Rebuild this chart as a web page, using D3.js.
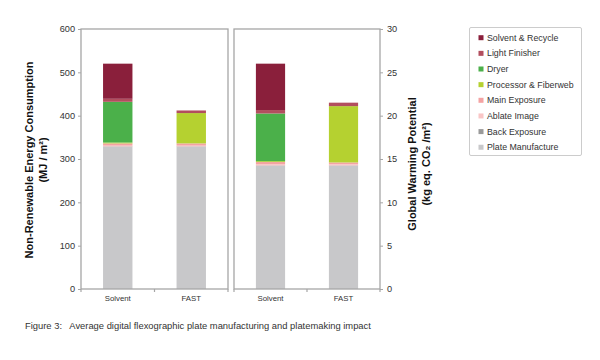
<!DOCTYPE html>
<html><head><meta charset="utf-8">
<script src="https://cdn.jsdelivr.net/npm/d3@7"></script>
<style>body{margin:0;background:#fff}svg{display:block}</style>
</head><body>
<svg id="c" width="600" height="360"></svg>
<script>
const categories = ["Solvent", "FAST"];
const seriesNames = ["Plate Manufacture", "Back Exposure", "Ablate Image", "Main Exposure", "Processor & Fiberweb", "Dryer", "Light Finisher", "Solvent & Recycle"];
const seriesColors = ["#c8c8ca", "#9a9a9a", "#f9c6c6", "#f4a3a3", "#b5d130", "#4bb04a", "#b24e5e", "#8a1f3b"];
// Non-renewable energy consumption (MJ / m2), [Solvent, FAST]
const energyPlate = [328, 328];
const energyBack = [1, 1];
const energyAblate = [2, 2];
const energyMain = [5, 5];
const energyProcessor = [2, 70];
const energyDryer = [94, 0];
const energyLight = [7, 6];
const energySolvent = [81, 0];
// Global warming potential (kg eq. CO2 / m2), [Solvent, FAST]
const gwpPlate = [14.2, 14.2];
const gwpBack = [0.05, 0.05];
const gwpAblate = [0.15, 0.15];
const gwpMain = [0.25, 0.2];
const gwpProcessor = [0.1, 6.5];
const gwpDryer = [5.5, 0];
const gwpLight = [0.4, 0.4];
const gwpSolvent = [5.35, 0];
const energyTicks = [0, 100, 200, 300, 400, 500, 600];
const gwpTicks = [0, 5, 10, 15, 20, 25, 30];

const energySeries = [energyPlate, energyBack, energyAblate, energyMain, energyProcessor, energyDryer, energyLight, energySolvent];
const gwpSeries = [gwpPlate, gwpBack, gwpAblate, gwpMain, gwpProcessor, gwpDryer, gwpLight, gwpSolvent];

const svg = d3.select("#c");
const font = "'Liberation Sans', Arial, sans-serif";
const plotTop = 29, plotBottom = 289;
const yL = d3.scaleLinear().domain([0, 600]).range([plotBottom, plotTop]);
const yR = d3.scaleLinear().domain([0, 30]).range([plotBottom, plotTop]);
const xL = d3.scaleBand().domain(categories).range([81, 228]).paddingInner(0.6).paddingOuter(0.3);
const xR = d3.scaleBand().domain(categories).range([234, 380]).paddingInner(0.6).paddingOuter(0.3);
const border = "#a6a6a6";

function panel(x, y, series) {
  const rows = categories.map((c, i) => {
    const r = {cat: c};
    seriesNames.forEach((s, k) => r[s] = series[k][i]);
    return r;
  });
  const stacked = d3.stack().keys(seriesNames)(rows);
  const g = svg.append("g");
  stacked.forEach((layer, k) => {
    g.selectAll(null).data(layer).enter().append("rect")
      .attr("x", d => x(d.data.cat))
      .attr("width", x.bandwidth())
      .attr("y", d => y(d[1]))
      .attr("height", d => Math.max(0, y(d[0]) - y(d[1])))
      .attr("fill", seriesColors[k]);
  });
  const [r0, r1] = x.range();
  svg.append("rect").attr("x", r0).attr("y", plotTop).attr("width", r1 - r0).attr("height", plotBottom - plotTop)
    .attr("fill", "none").attr("stroke", border).attr("stroke-width", 1.3);
  const step = x.step();
  const bounds = [r0, r0 + step, r1];
  svg.selectAll(null).data(bounds).enter().append("line")
    .attr("x1", d => d).attr("x2", d => d).attr("y1", plotBottom).attr("y2", plotBottom + 3)
    .attr("stroke", border).attr("stroke-width", 1.2);
  const ax = svg.append("g").attr("transform", `translate(0,${plotBottom})`)
    .call(d3.axisBottom(x).tickSize(0).tickPadding(6));
  ax.select(".domain").remove();
  ax.selectAll("text").attr("font-family", font).attr("font-size", 7.8).attr("fill", "#333");
}

panel(xL, yL, energySeries);
panel(xR, yR, gwpSeries);

const axL = svg.append("g").attr("transform", "translate(81,0)")
  .call(d3.axisLeft(yL).tickValues(energyTicks).tickSize(3).tickPadding(3));
axL.select(".domain").remove();
axL.selectAll("line").attr("stroke", border);
axL.selectAll("text").attr("font-family", font).attr("font-size", 9.2).attr("fill", "#333");

const axR = svg.append("g").attr("transform", "translate(380,0)")
  .call(d3.axisRight(yR).tickValues(gwpTicks).tickSize(3).tickPadding(4));
axR.select(".domain").remove();
axR.selectAll("line").attr("stroke", border);
axR.selectAll("text").attr("font-family", font).attr("font-size", 9.2).attr("fill", "#333");

function vtitle(x, y, lines) {
  const t = svg.append("text").attr("transform", `translate(${x},${y}) rotate(-90)`)
    .attr("text-anchor", "middle").attr("font-family", font).attr("font-weight", "bold")
    .attr("font-size", 11).attr("fill", "#111");
  lines.forEach((l, i) => t.append("tspan").attr("x", 0).attr("dy", i ? 14 : 0).text(l));
}
vtitle(33, 160, ["Non-Renewable Energy Consumption", "(MJ / m²)"]);
vtitle(416, 164, ["Global Warming Potential", "(kg eq. CO₂ /m²)"]);

const lg = svg.append("g");
lg.append("rect").attr("x", 469.5).attr("y", 27.5).attr("width", 112).attr("height", 128).attr("rx", 1.5)
  .attr("fill", "#fff").attr("stroke", "#ccc").attr("stroke-width", 1);
const legendOrder = seriesNames.map((s, i) => i).reverse();
legendOrder.forEach((k, j) => {
  const cy = 37.7 + j * 15.65;
  lg.append("rect").attr("x", 478.5).attr("y", cy - 2.5).attr("width", 5).attr("height", 5).attr("fill", seriesColors[k]);
  lg.append("text").attr("x", 487).attr("y", cy + 3).attr("font-family", font).attr("font-size", 8.8)
    .attr("fill", "#333").text(seriesNames[k]);
});

svg.append("text").attr("x", 25).attr("y", 329).attr("font-family", font).attr("font-size", 9.4)
  .attr("fill", "#333").attr("xml:space", "preserve")
  .text("Figure 3:   Average digital flexographic plate manufacturing and platemaking impact");
</script>
</body></html>
